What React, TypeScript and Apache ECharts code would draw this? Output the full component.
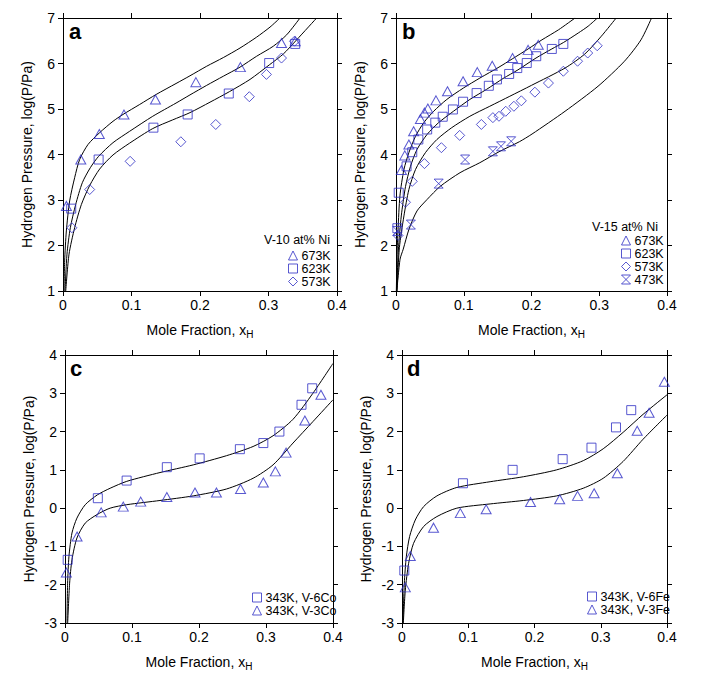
import React, { useEffect, useRef } from "react";
import * as echarts from "echarts";

// ---------- Panel a : V-10 at% Ni ----------
const aTri673 = [[0.005,2.87],[0.026,3.89],[0.053,4.45],[0.089,4.88],[0.135,5.21],[0.194,5.59],[0.259,5.92],[0.319,6.45],[0.339,6.49]];
const aSq623 = [[0.012,2.81],[0.052,3.89],[0.132,4.59],[0.182,4.88],[0.242,5.34],[0.301,6.01],[0.339,6.43]];
const aDia573 = [[0.013,2.39],[0.039,3.23],[0.098,3.85],[0.172,4.28],[0.223,4.66],[0.272,5.27],[0.297,5.76],[0.319,6.12],[0.338,6.49]];
const aCurve673 = [[0.0015,1.0],[0.0024,1.66],[0.0049,2.32],[0.0097,2.98],[0.017,3.49],[0.0243,3.89],[0.0365,4.22],[0.0535,4.48],[0.073,4.73],[0.0876,4.88],[0.112,5.1],[0.136,5.32],[0.165,5.56],[0.1854,5.73],[0.2098,5.94],[0.234,6.13],[0.2584,6.34],[0.2827,6.58],[0.3022,6.8],[0.3168,7.0]];
const aCurve623 = [[0.003,1.0],[0.0058,1.81],[0.0107,2.39],[0.0185,2.9],[0.0282,3.38],[0.0399,3.71],[0.052,3.96],[0.073,4.26],[0.0973,4.51],[0.131,4.84],[0.165,5.13],[0.1854,5.31],[0.2098,5.52],[0.234,5.72],[0.2584,5.92],[0.2827,6.16],[0.307,6.38],[0.3265,6.63],[0.346,7.0]];
const aCurve573 = [[0.004,1.0],[0.0088,1.81],[0.017,2.39],[0.0268,2.9],[0.039,3.32],[0.0535,3.68],[0.073,3.99],[0.0973,4.25],[0.131,4.57],[0.16,4.76],[0.1854,4.92],[0.2146,5.15],[0.2428,5.38],[0.273,5.65],[0.3012,5.97],[0.3217,6.21],[0.3411,6.52],[0.3703,7.0]];

// ---------- Panel b : V-15 at% Ni ----------
const bTri673 = [[0.008,3.66],[0.013,3.98],[0.019,4.22],[0.026,4.51],[0.036,4.78],[0.042,4.92],[0.047,5.01],[0.059,5.19],[0.076,5.39],[0.099,5.61],[0.12,5.81],[0.142,5.95],[0.172,6.12],[0.195,6.3],[0.21,6.41]];
const bSq623 = [[0.002,2.38],[0.004,3.16],[0.0156,3.74],[0.024,4.05],[0.033,4.33],[0.046,4.55],[0.058,4.7],[0.069,4.83],[0.084,4.99],[0.099,5.16],[0.119,5.35],[0.137,5.51],[0.149,5.65],[0.167,5.77],[0.179,5.9],[0.193,6.01],[0.207,6.16],[0.23,6.32],[0.247,6.43]];
const bDia573 = [[0.003,2.22],[0.014,2.95],[0.024,3.41],[0.042,3.8],[0.067,4.15],[0.094,4.42],[0.126,4.66],[0.143,4.81],[0.152,4.84],[0.162,4.95],[0.174,5.06],[0.185,5.18],[0.205,5.37],[0.225,5.57],[0.247,5.83],[0.268,6.05],[0.283,6.23],[0.297,6.39]];
const bHour473 = [[0.002,2.32],[0.022,2.46],[0.063,3.36],[0.102,3.89],[0.143,4.07],[0.155,4.18],[0.17,4.29]];
const bCurve673 = [[0.0005,1.0],[0.0015,1.8],[0.003,2.35],[0.0058,3.09],[0.0117,3.67],[0.019,4.04],[0.0288,4.4],[0.041,4.7],[0.0556,4.95],[0.075,5.21],[0.0994,5.46],[0.1238,5.68],[0.152,5.92],[0.1715,6.1],[0.195,6.32],[0.2154,6.52],[0.2398,6.74],[0.2643,7.0]];
const bCurve623 = [[0.001,1.0],[0.0035,1.9],[0.0078,2.65],[0.0141,3.3],[0.0214,3.74],[0.031,4.11],[0.0458,4.44],[0.0629,4.7],[0.0848,4.95],[0.109,5.21],[0.1335,5.43],[0.158,5.67],[0.18,5.86],[0.2066,6.12],[0.23,6.32],[0.247,6.46],[0.269,6.67],[0.2836,6.82],[0.2973,7.0]];
const bCurve573 = [[0.0015,1.0],[0.005,1.95],[0.0117,2.65],[0.019,3.23],[0.0288,3.67],[0.0434,4.04],[0.0604,4.33],[0.0823,4.59],[0.109,4.84],[0.1384,5.06],[0.168,5.28],[0.2,5.52],[0.2495,5.9],[0.2788,6.21],[0.3031,6.6],[0.325,7.0]];
const bCurve473 = [[0.0012,1.0],[0.006,1.7],[0.0107,1.92],[0.019,2.35],[0.031,2.76],[0.0458,3.01],[0.0653,3.3],[0.0945,3.6],[0.1238,3.82],[0.152,4.06],[0.182,4.28],[0.2008,4.45],[0.2495,4.95],[0.2982,5.5],[0.3372,6.05],[0.3616,6.52],[0.3772,7.0]];

// ---------- Panel c : 343K, V-Co ----------
const cSq6Co = [[0.004,-1.35],[0.049,0.26],[0.092,0.72],[0.152,1.07],[0.201,1.3],[0.261,1.54],[0.296,1.7],[0.32,2.0],[0.353,2.7],[0.369,3.13]];
const cTri3Co = [[0.002,-1.68],[0.018,-0.74],[0.054,-0.11],[0.087,0.04],[0.113,0.17],[0.152,0.29],[0.194,0.41],[0.226,0.41],[0.262,0.5],[0.296,0.67],[0.314,0.96],[0.33,1.45],[0.358,2.29],[0.382,2.96]];
const cCurve6Co = [[0.003,-3.0],[0.0039,-1.96],[0.0059,-1.26],[0.0104,-0.65],[0.0178,-0.26],[0.0302,0.09],[0.0486,0.35],[0.0674,0.52],[0.0922,0.7],[0.1418,0.93],[0.1914,1.13],[0.241,1.37],[0.2807,1.61],[0.3105,1.89],[0.3403,2.32],[0.37,3.0],[0.4,3.78]];
const cCurve3Co = [[0.004,-3.0],[0.0069,-1.96],[0.0104,-1.35],[0.0178,-0.78],[0.0302,-0.39],[0.0476,-0.17],[0.0674,0.0],[0.0922,0.09],[0.1418,0.2],[0.1914,0.32],[0.241,0.5],[0.2807,0.78],[0.3105,1.13],[0.3403,1.7],[0.37,2.26],[0.4,2.83]];

// ---------- Panel d : 343K, V-Fe ----------
const dSq6Fe = [[0.0035,-1.63],[0.092,0.65],[0.167,1.0],[0.2425,1.28],[0.286,1.58],[0.323,2.11],[0.346,2.56]];
const dTri3Fe = [[0.005,-2.07],[0.0125,-1.25],[0.0476,-0.51],[0.088,-0.13],[0.127,-0.03],[0.194,0.16],[0.238,0.23],[0.265,0.32],[0.29,0.39],[0.325,0.91],[0.355,2.02],[0.373,2.49],[0.396,3.3]];
const dCurve6Fe = [[0.0015,-3.0],[0.0035,-1.96],[0.0065,-1.27],[0.0115,-0.74],[0.02,-0.31],[0.0326,0.04],[0.0527,0.32],[0.0828,0.54],[0.133,0.69],[0.1832,0.82],[0.2334,1.0],[0.2736,1.24],[0.3037,1.55],[0.3338,1.98],[0.3639,2.45],[0.4,2.96]];
const dCurve3Fe = [[0.002,-3.0],[0.005,-2.14],[0.01,-1.44],[0.0174,-0.92],[0.0326,-0.48],[0.0527,-0.22],[0.0828,0.0],[0.133,0.11],[0.1832,0.2],[0.2334,0.32],[0.2736,0.52],[0.3037,0.78],[0.3338,1.22],[0.3639,1.8],[0.4,2.43]];

// ---------- labels ----------
const panelLetters = ["a", "b", "c", "d"];
const legendTitles = ["V-10 at% Ni", "V-15 at% Ni"];
const xName = "Mole Fraction, x{s|H}";
const yName = "Hydrogen Pressure, log(P/Pa)";
const yRanges = [[1, 7], [1, 7], [-3, 4], [-3, 4]];

const FONT = '"Liberation Sans", Arial, Helvetica, sans-serif';
const BLUE = "#2e2ec4";
const HOUR = "path://M0,0 L10,0 L0,10 L10,10 Z";

const grids = [
  { left: 63, top: 18, width: 274, height: 273 },
  { left: 396, top: 18, width: 271, height: 273 },
  { left: 65, top: 355, width: 268, height: 268 },
  { left: 402, top: 355, width: 265, height: 268 },
];

function buildOption() {
  const xAxis: any[] = [];
  const yAxis: any[] = [];
  grids.forEach((_, i) => {
    const common = {
      gridIndex: i,
      type: "value",
      min: 0,
      max: 0.4,
      interval: 0.1,
      splitLine: { show: false },
      axisLine: { show: true, onZero: false, lineStyle: { color: "#000", width: 1 } },
      axisTick: { show: true, inside: false, length: 5, lineStyle: { color: "#000", width: 1 } },
    };
    xAxis.push({
      ...common,
      position: "bottom",
      axisLabel: { color: "#000", fontSize: 14, fontFamily: FONT, margin: 7 },
      name: xName,
      nameLocation: "middle",
      nameGap: 29,
      nameTextStyle: {
        color: "#000",
        fontSize: 14,
        fontFamily: FONT,
        rich: { s: { fontSize: 10, fontFamily: FONT, color: "#000", padding: [9, 0, 0, 0] } },
      },
    });
    xAxis.push({ ...common, position: "top", axisLabel: { show: false } });
    const [ymin, ymax] = yRanges[i];
    const ycommon = {
      gridIndex: i,
      type: "value",
      min: ymin,
      max: ymax,
      interval: 1,
      splitLine: { show: false },
      axisLine: { show: true, onZero: false, lineStyle: { color: "#000", width: 1 } },
      axisTick: { show: true, inside: false, length: 5, lineStyle: { color: "#000", width: 1 } },
    };
    yAxis.push({
      ...ycommon,
      position: "left",
      axisLabel: { color: "#000", fontSize: 14, fontFamily: FONT, margin: 8 },
      name: yName,
      nameLocation: "middle",
      nameGap: 29,
      nameTextStyle: { color: "#000", fontSize: 14, fontFamily: FONT },
    });
    yAxis.push({ ...ycommon, position: "right", axisLabel: { show: false } });
  });

  const hollow = { color: "rgba(255,255,255,0)", borderColor: BLUE, borderWidth: 1 };
  const curve = (data: number[][], p: number) => ({
    type: "line",
    data,
    xAxisIndex: p * 2,
    yAxisIndex: p * 2,
    showSymbol: false,
    symbol: "none",
    smooth: 0.25,
    lineStyle: { color: "#000", width: 1 },
    silent: true,
    z: 2,
  });
  const pts = (name: string, data: number[][], p: number, symbol: string, size: any) => ({
    type: "scatter",
    name,
    data,
    xAxisIndex: p * 2,
    yAxisIndex: p * 2,
    symbol,
    symbolSize: size,
    itemStyle: hollow,
    z: 3,
  });

  const series = [
    curve(aCurve673, 0), curve(aCurve623, 0), curve(aCurve573, 0),
    curve(bCurve673, 1), curve(bCurve623, 1), curve(bCurve573, 1), curve(bCurve473, 1),
    curve(cCurve6Co, 2), curve(cCurve3Co, 2),
    curve(dCurve6Fe, 3), curve(dCurve3Fe, 3),
    pts("a|673K", aTri673, 0, "triangle", [10, 9]),
    pts("a|623K", aSq623, 0, "rect", 9),
    pts("a|573K", aDia573, 0, "diamond", 10),
    pts("b|673K", bTri673, 1, "triangle", [10, 9]),
    pts("b|623K", bSq623, 1, "rect", 9),
    pts("b|573K", bDia573, 1, "diamond", 10),
    pts("b|473K", bHour473, 1, HOUR, 9),
    pts("c|343K, V-6Co", cSq6Co, 2, "rect", 9),
    pts("c|343K, V-3Co", cTri3Co, 2, "triangle", [10, 9]),
    pts("d|343K, V-6Fe", dSq6Fe, 3, "rect", 9),
    pts("d|343K, V-3Fe", dTri3Fe, 3, "triangle", [10, 9]),
  ];

  const legendBase = {
    orient: "vertical",
    itemWidth: 9,
    itemHeight: 9,
    itemGap: 0,
    padding: 0,
    selectedMode: false,
    formatter: (n: string) => n.split("|")[1],
    itemStyle: { color: "rgba(255,255,255,0)", borderColor: BLUE, borderWidth: 1 },
    textStyle: { color: "#000", fontSize: 12.5, fontFamily: FONT, lineHeight: 13, padding: [0, 0, 0, -1] },
  };
  const legend = [
    { ...legendBase, left: 288, top: 249, data: ["a|673K", "a|623K", "a|573K"] },
    { ...legendBase, left: 621, top: 234, data: ["b|673K", "b|623K", "b|573K", "b|473K"] },
    { ...legendBase, left: 252, top: 591, data: ["c|343K, V-6Co", "c|343K, V-3Co"] },
    { ...legendBase, left: 587, top: 590, data: ["d|343K, V-6Fe", "d|343K, V-3Fe"] },
  ];

  const letterPos = [[69, 20], [402, 20], [70, 357], [407, 357]];
  const graphic: any[] = panelLetters.map((t, i) => ({
    type: "text",
    x: letterPos[i][0],
    y: letterPos[i][1],
    style: { text: t, fill: "#000", fontSize: 22, fontWeight: "bold", fontFamily: FONT, verticalAlign: "top" },
  }));
  graphic.push({
    type: "text",
    x: 330,
    y: 240,
    style: { text: legendTitles[0], fill: "#000", fontSize: 12.5, fontFamily: FONT, align: "right", verticalAlign: "middle" },
  });
  graphic.push({
    type: "text",
    x: 658,
    y: 227,
    style: { text: legendTitles[1], fill: "#000", fontSize: 12.5, fontFamily: FONT, align: "right", verticalAlign: "middle" },
  });

  return {
    animation: false,
    backgroundColor: "#fff",
    grid: grids.map((g) => ({ ...g, containLabel: false })),
    xAxis,
    yAxis,
    legend,
    graphic,
    series,
  };
}

export default function App() {
  const ref = useRef<HTMLDivElement>(null);
  useEffect(() => {
    if (!ref.current) return;
    const chart = echarts.init(ref.current, undefined, { renderer: "svg" });
    chart.setOption(buildOption() as any);
    return () => chart.dispose();
  }, []);
  return (
    <div
      ref={ref}
      style={{ position: "absolute", left: 0, top: 0, width: 701, height: 681, background: "#fff" }}
    />
  );
}
